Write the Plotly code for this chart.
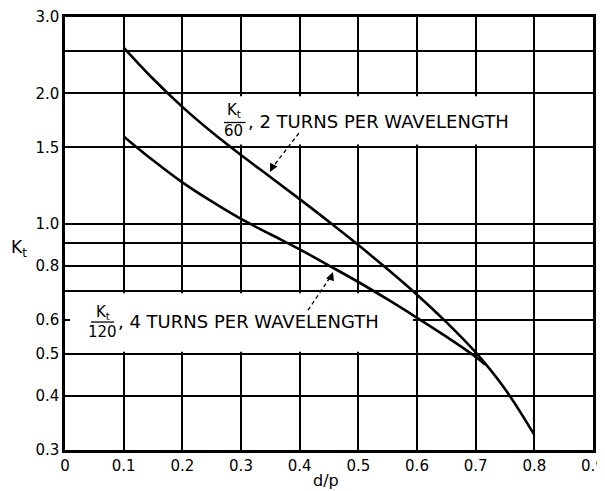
import math
import plotly.graph_objects as go

# ---- data ----
x_two_turns = [0.1, 0.15, 0.2, 0.25, 0.3, 0.35, 0.4, 0.45, 0.5, 0.55, 0.6, 0.65, 0.7, 0.75, 0.8]
kt_two_turns = [2.55, 2.16, 1.86, 1.627, 1.44, 1.281, 1.139, 1.01, 0.892, 0.784, 0.685, 0.592, 0.504, 0.415, 0.325]

x_four_turns = [0.1, 0.15, 0.2, 0.25, 0.3, 0.35, 0.4, 0.45, 0.5, 0.55, 0.6, 0.65, 0.7, 0.716]
kt_four_turns = [1.59, 1.40, 1.245, 1.125, 1.025, 0.945, 0.872, 0.80, 0.733, 0.668, 0.606, 0.548, 0.492, 0.473]

x_ticks = [0, 0.1, 0.2, 0.3, 0.4, 0.5, 0.6, 0.7, 0.8, 0.9]
x_tick_text = ["0", "0.1", "0.2", "0.3", "0.4", "0.5", "0.6", "0.7", "0.8", "0.9"]
y_ticks = [0.3, 0.4, 0.5, 0.6, 0.8, 1.0, 1.5, 2.0, 3.0]
y_tick_text = ["0.3", "0.4", "0.5", "0.6", "0.8", "1.0", "1.5", "2.0", "3.0"]
y_minor_grid = [0.7, 0.9, 2.5]

FONT = "DejaVu Sans"
INK = "black"

fig = go.Figure()
fig.add_trace(go.Scatter(x=x_two_turns, y=kt_two_turns, mode="lines",
                         line=dict(color=INK, width=2.6, shape="spline", smoothing=1.0),
                         hoverinfo="skip", showlegend=False))
fig.add_trace(go.Scatter(x=x_four_turns, y=kt_four_turns, mode="lines",
                         line=dict(color=INK, width=2.6, shape="spline", smoothing=1.0),
                         hoverinfo="skip", showlegend=False))

# white label boxes hiding grid (drawn between grid and traces)
fig.add_shape(type="rect", xref="x", yref="y", x0=0.212, x1=0.788, y0=1.522, y1=1.968,
              fillcolor="white", line=dict(width=0), layer="between")
fig.add_shape(type="rect", xref="x", yref="y", x0=0.004, x1=0.593, y0=0.506, y1=0.69,
              fillcolor="white", line=dict(width=0), layer="between")

# fraction bars
fig.add_shape(type="line", xref="x", yref="y", x0=0.271, x1=0.308, y0=1.712, y1=1.712,
              line=dict(color=INK, width=1.3))
fig.add_shape(type="line", xref="x", yref="y", x0=0.0443, x1=0.0835, y0=0.5925, y1=0.5925,
              line=dict(color=INK, width=1.3))

# dashed pointer lines
fig.add_shape(type="line", xref="x", yref="y", x0=0.3987, y0=1.618, x1=0.354, y1=1.35,
              line=dict(color=INK, width=1.3, dash="4px,3px"))
fig.add_shape(type="line", xref="x", yref="y", x0=0.4142, y0=0.631, x1=0.452, y1=0.752,
              line=dict(color=INK, width=1.3, dash="4px,3px"))

L = math.log10
ann = []
# arrowheads
ann.append(dict(x=0.3494, y=L(1.315), xref="x", yref="y", text="", showarrow=True,
                ax=4, ay=-8, arrowhead=2, arrowsize=1.2, arrowwidth=1.4, arrowcolor=INK))
ann.append(dict(x=0.4568, y=L(0.773), xref="x", yref="y", text="", showarrow=True,
                ax=-3, ay=8, arrowhead=2, arrowsize=1.2, arrowwidth=1.4, arrowcolor=INK))

tf = dict(family=FONT, size=15, color=INK)
lf = dict(family=FONT, size=18, color=INK)
# label 1
ann.append(dict(x=0.288, y=L(1.829), xref="x", yref="y", text="K<sub>t</sub>", showarrow=False,
                font=tf, xanchor="center", yanchor="middle"))
ann.append(dict(x=0.288, y=L(1.632), xref="x", yref="y", text="60", showarrow=False,
                font=tf, xanchor="center", yanchor="middle"))
ann.append(dict(x=0.309, y=L(1.721), xref="x", yref="y", text=", 2 TURNS PER WAVELENGTH",
                showarrow=False, font=lf, xanchor="left", yanchor="middle"))
# label 2
ann.append(dict(x=0.0647, y=L(0.6247), xref="x", yref="y", text="K<sub>t</sub>", showarrow=False,
                font=tf, xanchor="center", yanchor="middle"))
ann.append(dict(x=0.0647, y=L(0.563), xref="x", yref="y", text="120", showarrow=False,
                font=tf, xanchor="center", yanchor="middle"))
ann.append(dict(x=0.087, y=L(0.5957), xref="x", yref="y", text=", 4 TURNS PER WAVELENGTH",
                showarrow=False, font=lf, xanchor="left", yanchor="middle"))

# axis titles
ann.append(dict(x=-0.087, y=0.466, xref="paper", yref="paper", text="K<sub>t</sub>",
                showarrow=False, font=dict(family=FONT, size=17, color=INK),
                xanchor="center", yanchor="middle"))
ann.append(dict(x=0.494, y=-0.071, xref="paper", yref="paper", text="d/p",
                showarrow=False, font=dict(family=FONT, size=16, color=INK),
                xanchor="center", yanchor="middle"))

# the page places the figure 8px in from the top-left corner, so the
# figure is sized/margined to put the plot frame where the reference has it
fig.update_layout(
    width=597, height=483,
    margin=dict(l=57, r=12, t=9, b=41, autoexpand=False),
    paper_bgcolor="white", plot_bgcolor="white",
    font=dict(family=FONT, size=15, color=INK),
    annotations=ann,
    showlegend=False,
)
fig.update_xaxes(
    range=[0, 0.9], tickvals=x_ticks, ticktext=x_tick_text, automargin=False,
    showgrid=True, gridcolor=INK, gridwidth=1.5,
    showline=True, linecolor=INK, linewidth=2.5, mirror=True,
    ticks="", zeroline=False, tickfont=dict(family=FONT, size=15, color=INK),
)
fig.update_yaxes(
    type="log", range=[L(0.3), L(3.0)], tickvals=y_ticks, ticktext=y_tick_text, automargin=False,
    showgrid=True, gridcolor=INK, gridwidth=1.5,
    minor=dict(tickvals=y_minor_grid, showgrid=True, gridcolor=INK, gridwidth=1.5, ticks=""),
    showline=True, linecolor=INK, linewidth=2.5, mirror=True,
    ticks="inside", ticklen=5, tickwidth=1.5, tickcolor=INK,
    zeroline=False, tickfont=dict(family=FONT, size=15, color=INK),
)

fig.write_html("out.html")
